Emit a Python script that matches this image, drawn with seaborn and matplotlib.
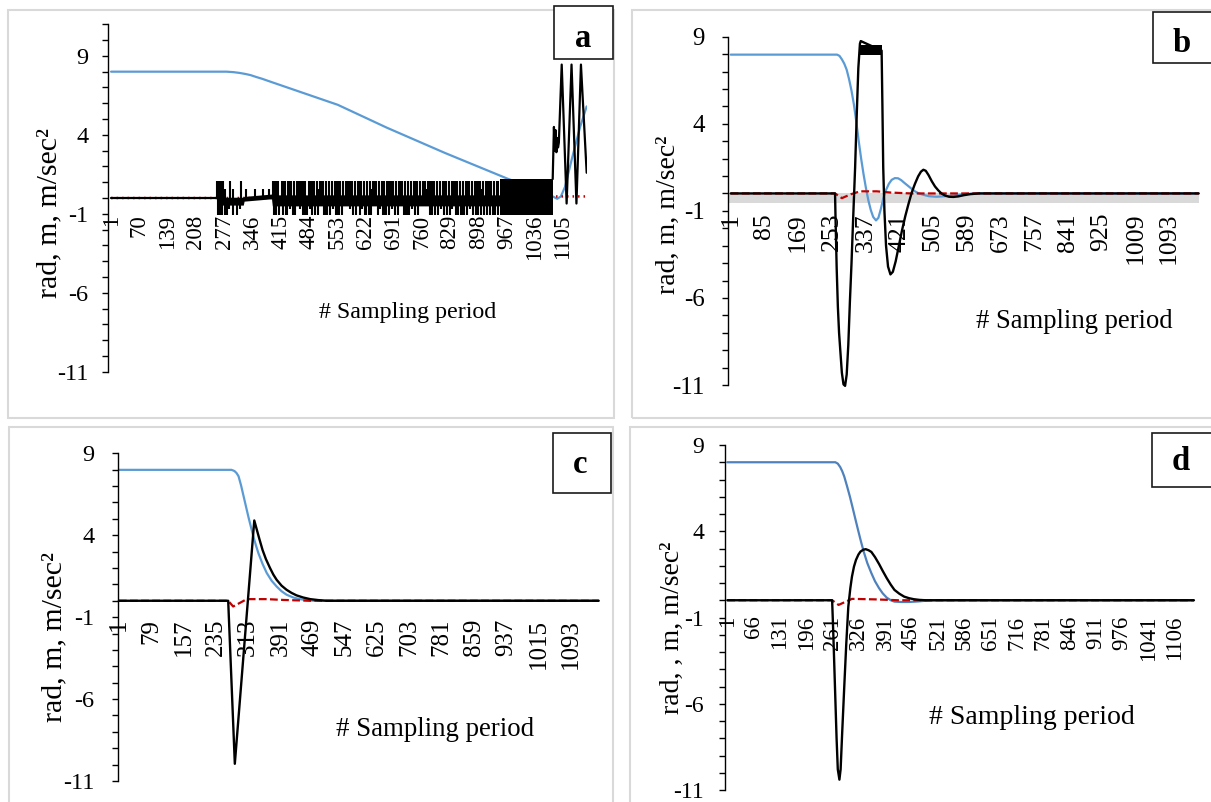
import matplotlib
matplotlib.use("Agg")
import matplotlib.pyplot as plt
import seaborn as sns
from matplotlib.patches import Rectangle

# ---------------- data ----------------
# Panel a  (sample index, value)
a_blue_s = [1, 283, 300, 315, 330, 342, 356, 370, 391, 555, 675, 817, 969, 1040, 1080, 1091, 1100, 1110, 1128, 1147, 1163]
a_blue_v = [8.0, 8.0, 7.97, 7.92, 7.85, 7.78, 7.66, 7.55, 7.36, 5.9, 4.45, 2.85, 1.23, 0.55, 0.1, -0.05, 0.1, 0.7, 2.6, 4.5, 5.8]
a_red_s = [1, 1083, 1088, 1163]
a_red_v = [0.0, 0.0, 0.1, 0.1]
a_black_s = [1, 259]
a_black_v = [0.0, 0.0]
a_band_s = [259, 324, 326, 393, 395, 951]
a_band_lo = [-0.45, -0.45, -0.2, -0.05, -0.5, -0.5]
a_band_hi = [0.05, 0.05, 0.1, 0.25, 0.2, 0.2]
a_up_s = [261, 264, 267, 271, 275, 292, 318, 397, 401, 404, 410, 418, 421, 425, 433, 439, 441,
          447, 455, 461, 464, 469, 476, 484, 489, 492, 498, 503, 511, 515, 519, 526, 533, 540,
          547, 550, 556, 561, 568, 576, 579, 584, 590, 597, 604, 607, 612, 619, 626, 633, 641,
          644, 648, 655, 662, 669, 676, 680, 684, 690, 698, 705, 709, 712, 719, 727, 734, 740,
          744, 748, 755, 762, 769, 776, 780, 784, 790, 797, 804, 811, 815, 819, 826, 833, 839,
          843, 847, 853, 860, 867, 870, 875, 882, 889, 895, 899, 903, 909, 916, 922, 926, 930,
          936, 943, 947]
a_up_mid_s = [280, 300, 330, 352, 372, 386, 458, 506, 579, 636, 708, 772, 836, 906]
a_dn_s = [263, 266, 269, 273, 279, 285, 300, 309, 398, 402, 405, 412, 420, 428, 431, 445,
          451, 470, 474, 480, 493, 500, 507, 521, 525, 529, 536, 551, 554, 558, 565, 592,
          600, 609, 622, 625, 630, 637, 652, 665, 669, 672, 680, 694, 701, 716, 719, 723,
          730, 744, 751, 779, 783, 786, 793, 800, 815, 821, 828, 843, 849, 857, 860, 863,
          871, 885, 892, 898, 905, 913, 919, 926, 933, 937, 940, 947]
a_dn_mid_s = [289, 315, 437, 463, 487, 544, 585, 615, 658, 687, 737, 808, 835, 878]
a_block_s = [951, 1080]
a_block_lo = [-1.1, -1.1]
a_block_hi = [1.2, 1.2]
a_end_s = [1080, 1083, 1085, 1087, 1089, 1091, 1093, 1095, 1102, 1114, 1126, 1138, 1149, 1163]
a_end_v = [1.2, 4.5, 3.0, 4.3, 2.9, 3.8, 3.2, 3.5, 8.45, -0.35, 8.45, -0.35, 8.45, 1.6]

# Panel b
b_blue_s = [1, 266, 272, 278, 284, 290, 296, 302, 308, 314, 320, 326, 332, 338, 344, 350, 356,
            363, 369, 375, 381, 388, 395, 402, 410, 418, 426, 434, 442, 450, 460, 470, 481, 495,
            514, 535, 556, 580, 606, 1167]
b_blue_v = [7.97, 7.97, 7.9, 7.7, 7.45, 7.1, 6.55, 5.9, 5.1, 4.1, 3.0, 2.0, 1.1, 0.3, -0.4,
            -0.95, -1.35, -1.55, -1.4, -0.9, -0.3, 0.2, 0.55, 0.78, 0.88, 0.87, 0.76, 0.6, 0.45,
            0.3, 0.12, 0.0, -0.08, -0.16, -0.19, -0.16, -0.12, -0.05, 0.0, 0.0]
b_red_s = [1, 261, 278, 300, 323, 365, 400, 450, 1167]
b_red_v = [0.0, 0.0, -0.27, -0.05, 0.12, 0.12, 0.05, 0.0, 0.0]
b_black_s = [1, 261, 262, 265, 268, 271, 274, 278, 282, 286, 290, 294, 298, 302, 306, 311, 315,
             319, 323, 325, 377, 379, 381, 384, 388, 393, 399, 405, 412, 420, 428, 436, 444, 452,
             460, 468, 475, 481, 487, 494, 502, 510, 518, 526, 535, 545, 556, 568, 582, 598, 620, 1167]
b_black_v = [0.0, 0.0, -1.2, -4.25, -6.5, -8.0, -9.0, -10.3, -10.96, -11.05, -10.4, -8.7, -6.2,
             -4.0, -1.5, 1.5, 4.5, 7.2, 8.6, 8.75, 8.2, 5.0, 1.5, -1.0, -3.0, -4.2, -4.65, -4.5,
             -3.9, -3.0, -2.1, -1.3, -0.6, 0.05, 0.55, 0.98, 1.25, 1.36, 1.3, 1.05, 0.7, 0.4,
             0.18, 0.0, -0.12, -0.19, -0.2, -0.17, -0.1, -0.04, 0.0, 0.0]
b_block_s = [323, 377]
b_block_lo = [7.95, 7.95]
b_block_hi = [8.55, 8.55]
b_gray_s = [-5, 1167]
b_gray_lo = [-0.55, -0.55]
b_gray_hi = [0.0, 0.0]

# Panel c
c_blue_s = [1, 273, 280, 285, 290, 296, 302, 308, 314, 320, 326, 332, 338, 348, 358, 370, 382,
            394, 406, 422, 438, 455, 471, 1160]
c_blue_v = [7.99, 7.99, 7.92, 7.8, 7.6, 7.05, 6.4, 5.75, 5.1, 4.5, 3.9, 3.38, 2.9, 2.25, 1.7,
            1.22, 0.87, 0.58, 0.37, 0.2, 0.1, 0.04, 0.0, 0.0]
c_red_s = [1, 265, 277, 310, 358, 398, 463, 1160]
c_red_v = [0.0, 0.0, -0.35, 0.1, 0.1, 0.05, 0.0, 0.0]
c_black_s = [1, 265, 281, 328, 334, 340, 348, 356, 366, 374, 382, 394, 406, 418, 430, 446, 463,
             483, 503, 1160]
c_black_v = [0.0, 0.0, -9.95, 4.9, 4.35, 3.8, 3.1, 2.55, 2.0, 1.6, 1.28, 0.92, 0.67, 0.48,
             0.33, 0.2, 0.1, 0.04, 0.0, 0.0]

# Panel d
d_blue_s = [1, 268, 274, 280, 285, 290, 297, 304, 310, 317, 324, 331, 338, 347, 357, 366, 376,
            385, 395, 405, 414, 430, 450, 472, 490, 510, 1154]
d_blue_v = [8.0, 8.0, 7.92, 7.72, 7.48, 7.17, 6.6, 6.0, 5.43, 4.75, 4.08, 3.43, 2.82, 2.15,
            1.57, 1.1, 0.7, 0.4, 0.15, 0.0, -0.08, -0.1, -0.1, -0.07, -0.03, 0.0, 0.0]
d_red_s = [1, 260, 276, 309, 367, 424, 1154]
d_red_v = [0.0, 0.0, -0.27, 0.08, 0.05, 0.0, 0.0]
d_black_s = [1, 260, 263, 267, 271, 274, 278, 281, 285, 290, 295, 300, 305, 309, 314, 319, 325,
             330, 337, 343, 350, 357, 366, 376, 385, 395, 405, 414, 426, 438, 450, 462, 476, 491, 1154]
d_black_v = [0.0, 0.0, -2.0, -5.0, -8.0, -9.8, -10.4, -9.8, -7.6, -5.0, -2.5, -0.37, 0.7,
             1.37, 1.95, 2.34, 2.65, 2.82, 2.93, 2.96, 2.9, 2.8, 2.5, 2.1, 1.7, 1.28, 0.9, 0.6,
             0.38, 0.21, 0.12, 0.06, 0.02, 0.0, 0.0]

# tick labels
y_major = [-11, -6, -1, 4, 9]
a_xticks = [1, 70, 139, 208, 277, 346, 415, 484, 553, 622, 691, 760, 829, 898, 967, 1036, 1105]
b_xticks = [1, 85, 169, 253, 337, 421, 505, 589, 673, 757, 841, 925, 1009, 1093]
c_xticks = [1, 79, 157, 235, 313, 391, 469, 547, 625, 703, 781, 859, 937, 1015, 1093]
d_xticks = [1, 66, 131, 196, 261, 326, 391, 456, 521, 586, 651, 716, 781, 846, 911, 976, 1041, 1106]
ylabel_text = "rad, m, m/sec\u00b2"
ylabel_text_d = "rad, , m, m/sec\u00b2"
xlabel_text = "# Sampling period"

# ---------------- styling ----------------
sns.set_theme(style="white")
plt.rcParams["font.family"] = ["Liberation Serif", "DejaVu Serif"]
plt.rcParams["axes.unicode_minus"] = False

W, H = 1211, 802
fig = plt.figure(figsize=(W / 100, H / 100), dpi=100)
fig.patch.set_facecolor("white")

BLUE = "#5b9bd5"
BLUE_D = "#4f81bd"
RED = "#c00000"
GRAY_FRAME = "#d9d9d9"


def fig_rect(x0, y0, x1, y1, **kw):
    fig.add_artist(Rectangle((x0 / W, 1 - y1 / H), (x1 - x0) / W, (y1 - y0) / H,
                             transform=fig.transFigure, **kw))


def px_axes(x0, x1, ytop, ybot):
    return fig.add_axes([x0 / W, 1 - ybot / H, (x1 - x0) / W, (ybot - ytop) / H])


# outer gray frames
fig_rect(8, 10, 614, 418, fill=False, edgecolor=GRAY_FRAME, lw=1.5)
fig_rect(632, 10, 1225, 418, fill=False, edgecolor=GRAY_FRAME, lw=1.5)
fig_rect(9, 427, 613, 815, fill=False, edgecolor=GRAY_FRAME, lw=1.5)
fig_rect(630, 427, 1225, 815, fill=False, edgecolor=GRAY_FRAME, lw=1.5)


def style_axes(ax, xlim, ylim, xt, xt_fs, yt_fs, ypad, xpad):
    ax.set_facecolor("none")
    ax.grid(False)
    ax.set_xlim(*xlim)
    ax.set_ylim(*ylim)
    ax.spines["top"].set_visible(False)
    ax.spines["right"].set_visible(False)
    ax.spines["bottom"].set_position(("data", 0))
    ax.spines["bottom"].set_color("none")
    ax.spines["left"].set_color("black")
    ax.spines["left"].set_linewidth(1.0)
    ax.set_yticks(y_major)
    ax.set_yticklabels([str(v) for v in y_major])
    ax.set_yticks(list(range(ylim[0], ylim[1] + 1)), minor=True)
    ax.tick_params(axis="y", which="both", direction="out", length=4.3, width=1.0,
                   color="black", labelsize=yt_fs, pad=ypad, left=True, labelcolor="black")
    ax.set_xticks(xt)
    ax.set_xticklabels([str(v) for v in xt], rotation=90)
    ax.tick_params(axis="x", which="both", length=0, labelsize=xt_fs, pad=xpad,
                   bottom=True, labelcolor="black")
    ax.set_xlabel("")
    ax.set_ylabel("")
    ax.set_axisbelow(True)


def line(ax, s, v, color, lw, ls="-", z=3, clip=True):
    sns.lineplot(x=s, y=v, ax=ax, color=color, linewidth=lw, linestyle=ls,
                 estimator=None, sort=False, zorder=z, clip_on=clip)


DASH = (0, (3.5, 1.5))

# ---------- panel a ----------
axa = px_axes(108.3, 587, 24.3, 371.7)
line(axa, a_blue_s, a_blue_v, BLUE, 1.6, z=2)
line(axa, a_red_s, a_red_v, RED, 1.8, ls=(0, (0.6, 1.6)), z=2.2)
line(axa, a_black_s, a_black_v, "black", 1.6, z=3)
axa.fill_between(a_band_s, a_band_lo, a_band_hi, color="black", lw=0, zorder=3)
axa.vlines(a_up_s, 0, 1.05, colors="black", lw=1.5, zorder=3)
axa.vlines(a_up_mid_s, 0, 0.6, colors="black", lw=1.5, zorder=3)
axa.vlines(a_dn_s, -1.1, 0, colors="black", lw=1.5, zorder=3)
axa.vlines(a_dn_mid_s, -0.7, 0, colors="black", lw=1.5, zorder=3)
axa.fill_between(a_block_s, a_block_lo, a_block_hi, color="black", lw=0, zorder=3)
line(axa, a_end_s, a_end_v, "black", 1.6, z=3)
style_axes(axa, (-5.8, 1163.8), (-11, 11), a_xticks, 16.5, 17.5, 10, 12)

# ---------- panel b ----------
axb = px_axes(728, 1199, 36.7, 385)
axb.fill_between(b_gray_s, b_gray_lo, b_gray_hi, color="#d9d9d9", lw=0, zorder=1)
line(axb, b_blue_s, b_blue_v, BLUE, 1.6, z=2)
line(axb, b_red_s, b_red_v, RED, 1.6, ls=DASH, z=2.2)
line(axb, b_black_s, b_black_v, "black", 1.7, z=3, clip=False)
axb.fill_between(b_block_s, b_block_lo, b_block_hi, color="black", lw=0, zorder=3)
style_axes(axb, (-5.7, 1167.7), (-11, 9), b_xticks, 18.5, 18, 12.5, 14)

# ---------- panel c ----------
axc = px_axes(117.7, 598.8, 453.3, 781)
line(axc, c_blue_s, c_blue_v, BLUE, 1.6, z=2)
line(axc, c_red_s, c_red_v, RED, 1.6, ls=DASH, z=2.2)
line(axc, c_black_s, c_black_v, "black", 1.7, z=3, clip=False)
style_axes(axc, (-1.9, 1160.2), (-11, 9), c_xticks, 18, 17.5, 12.5, 13)

# ---------- panel d ----------
axd = px_axes(724.6, 1194, 445, 790)
line(axd, d_blue_s, d_blue_v, BLUE_D, 1.6, z=2)
line(axd, d_red_s, d_red_v, RED, 1.6, ls=DASH, z=2.2)
line(axd, d_black_s, d_black_v, "black", 1.7, z=3, clip=False)
style_axes(axd, (-5.7, 1154.2), (-11, 9), d_xticks, 16.5, 17, 10.5, 11)

# axis titles (placed in the plot areas as in the original)
for (x, y, size) in [(49, 213, 21.5), (668, 215, 20), (54, 637, 21.5)]:
    fig.text(x / W, 1 - y / H, ylabel_text, rotation=90, ha="center", va="center",
             fontsize=size, color="black")
fig.text(672 / W, 1 - 628 / H, ylabel_text_d, rotation=90, ha="center", va="center",
         fontsize=20, color="black")
for (x, y, size) in [(319, 313, 17.3), (976, 321, 19.2), (336, 730, 19.4), (929, 718, 20)]:
    fig.text(x / W, 1 - y / H, xlabel_text, ha="left", va="center", fontsize=size, color="black")

# panel letter boxes
for (x0, y0, x1, y1, lx, ly, letter) in [(554, 6, 613, 59, 583, 47, "a"),
                                          (1153, 12, 1215, 63, 1182, 52, "b"),
                                          (553, 433, 611, 493, 580, 473, "c"),
                                          (1152, 433, 1215, 487, 1181, 470, "d")]:
    fig_rect(x0, y0, x1, y1, facecolor="white", edgecolor="#1a1a1a", lw=1.2, zorder=10)
    fig.text(lx / W, 1 - ly / H, letter, ha="center", va="baseline", fontsize=23.5,
             fontweight="bold", color="black", zorder=11)

fig.savefig("out.png", dpi=100, facecolor="white")
